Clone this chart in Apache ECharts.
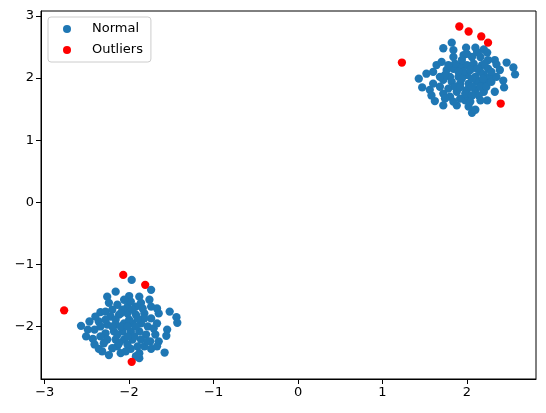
<!DOCTYPE html>
<html>
<head>
<meta charset="utf-8">
<script src="https://cdn.jsdelivr.net/npm/echarts@6/dist/echarts.min.js"></script>
<style>
  html, body { margin: 0; padding: 0; background: #fff; }
  #chart { width: 546px; height: 413px; }
</style>
</head>
<body>
<div id="chart"></div>
<script>
// cluster around (2, 2)
const normalUpper = [
  [1.82, 2.57], [1.72, 2.48], [1.99, 2.49], [2.10, 2.49], [2.20, 2.46], [2.24, 2.41],
  [2.33, 2.29], [2.35, 2.22], [2.47, 2.25], [2.55, 2.17], [2.57, 2.06], [2.43, 1.96],
  [2.44, 1.85], [2.33, 1.78], [2.24, 1.64], [2.06, 1.44], [2.10, 1.49], [2.02, 1.54],
  [1.98, 1.64], [2.02, 1.69], [1.88, 1.56], [1.72, 1.56], [1.62, 1.63], [1.47, 1.85],
  [1.56, 1.81], [1.43, 1.99], [1.52, 2.07], [1.60, 2.10], [1.64, 2.21], [1.70, 2.26],
  [1.84, 2.34], [1.96, 2.37], [2.06, 2.34], [2.16, 2.34], [1.76, 2.13], [1.84, 2.15],
  [1.92, 2.18], [2.00, 2.21], [2.08, 2.23], [2.18, 2.21], [2.25, 2.15], [1.80, 2.02],
  [1.90, 2.02], [2.00, 2.05], [2.10, 2.02], [2.20, 2.05], [2.27, 2.02], [1.72, 1.97],
  [1.82, 1.94], [1.92, 1.91], [2.02, 1.91], [2.12, 1.94], [2.21, 1.94], [1.68, 1.86],
  [1.78, 1.83], [1.88, 1.78], [2.00, 1.81], [2.10, 1.81], [2.20, 1.78], [1.80, 1.70],
  [1.92, 1.67], [2.14, 1.72], [1.72, 1.75], [2.16, 2.10], [1.96, 2.10], [2.04, 2.13],
  [1.86, 2.23], [1.74, 2.05], [1.94, 1.99], [2.06, 1.99], [2.16, 1.86], [1.86, 1.86],
  [1.98, 1.75], [2.06, 1.72], [2.23, 1.86], [1.94, 2.29], [2.12, 2.15], [1.90, 2.10],
  [1.68, 2.02], [1.78, 2.21], [2.25, 2.29], [2.04, 1.62], [1.84, 1.62], [2.29, 1.94],
  [1.60, 1.91], [2.16, 1.64], [2.35, 2.02], [2.00, 2.39], [2.12, 2.42], [2.29, 2.10],
  [1.58, 1.72], [2.21, 2.23], [2.39, 2.13], [1.84, 2.45], [2.06, 1.86], [1.92, 1.85],
  [1.74, 1.67], [2.19, 1.99]
];

// cluster around (-2, -2)
const normalLower = [
  [-1.97, -1.25], [-2.16, -1.44], [-2.26, -1.52], [-2.00, -1.51], [-1.88, -1.52], [-1.74, -1.41],
  [-1.76, -1.57], [-1.67, -1.71], [-1.65, -1.79], [-1.52, -1.76], [-1.44, -1.85], [-1.43, -1.94],
  [-1.55, -2.05], [-1.56, -2.15], [-1.65, -2.24], [-1.75, -2.24], [-1.74, -2.36], [-1.58, -2.42],
  [-1.88, -2.51], [-1.92, -2.48], [-1.98, -2.36], [-2.10, -2.43], [-2.24, -2.46], [-2.32, -2.40],
  [-2.36, -2.36], [-2.51, -2.16], [-2.43, -2.20], [-2.57, -1.99], [-2.47, -1.92], [-2.36, -1.92],
  [-2.34, -1.77], [-2.28, -1.76], [-2.14, -1.65], [-2.02, -1.68], [-1.92, -1.68], [-2.22, -1.84],
  [-2.12, -1.81], [-2.02, -1.79], [-1.92, -1.81], [-1.82, -1.79], [-1.74, -1.87], [-2.26, -1.97],
  [-2.16, -1.97], [-2.06, -1.95], [-1.96, -1.95], [-1.86, -1.95], [-1.78, -2.00], [-2.28, -2.11],
  [-2.18, -2.08], [-2.08, -2.08], [-1.98, -2.08], [-1.88, -2.08], [-1.80, -2.13], [-2.26, -2.21],
  [-2.16, -2.21], [-2.06, -2.21], [-1.96, -2.21], [-1.86, -2.21], [-2.14, -2.32], [-2.02, -2.29],
  [-1.90, -2.32], [-2.20, -1.73], [-2.08, -1.73], [-1.98, -1.60], [-1.86, -1.62], [-2.41, -2.05],
  [-2.34, -2.16], [-1.71, -2.03], [-2.20, -2.35], [-2.00, -1.89], [-2.10, -2.00], [-1.92, -2.00],
  [-1.67, -1.95], [-1.74, -1.68], [-1.84, -1.71], [-2.30, -2.27], [-2.41, -2.29], [-2.06, -1.57],
  [-1.82, -2.32], [-1.69, -2.13], [-2.14, -2.13], [-2.24, -1.62], [-1.94, -2.16], [-2.04, -2.40],
  [-2.16, -1.89], [-2.40, -1.84], [-1.82, -1.87], [-2.02, -2.16], [-1.88, -2.43], [-2.10, -1.79],
  [-1.96, -1.73], [-2.28, -1.89], [-1.78, -2.24], [-2.20, -2.00], [-2.02, -2.00], [-2.12, -2.27],
  [-2.34, -2.00], [-1.90, -1.87], [-1.67, -2.32], [-2.49, -2.05]
];

const outliers = [
  [1.91, 2.83], [2.02, 2.75], [2.17, 2.67], [2.25, 2.57], [1.23, 2.25], [2.40, 1.59],
  [-2.77, -1.74], [-2.07, -1.17], [-1.81, -1.33], [-1.97, -2.57]
];

const xTicks = [-3, -2, -1, 0, 1, 2];
const yTicks = [-2, -1, 0, 1, 2, 3];

const minus = v => String(v).replace('-', '\u2212');

const chart = echarts.init(document.getElementById('chart'), null, { renderer: 'canvas' });

const axisCommon = {
  type: 'value',
  splitLine: { show: false },
  axisLine: { show: true, onZero: false, lineStyle: { color: '#000', width: 1 } },
  axisLabel: { color: '#000', fontSize: 13, fontFamily: 'DejaVu Sans', formatter: minus }
};

chart.setOption({
  animation: false,
  textStyle: { fontFamily: 'DejaVu Sans' },
  grid: {
    left: 41, right: 10, top: 11, bottom: 34,
    show: true, borderColor: '#000', borderWidth: 1, backgroundColor: 'transparent'
  },
  legend: {
    orient: 'vertical',
    left: 48, top: 17,
    padding: [5, 8, 5, 15],
    itemGap: 7,
    itemWidth: 18, itemHeight: 8,
    backgroundColor: 'rgba(255,255,255,0.8)',
    borderColor: '#cccccc', borderWidth: 1, borderRadius: 3,
    textStyle: { color: '#000', fontSize: 13, lineHeight: 14, padding: [0, 0, 0, 11] },
    data: [
      { name: 'Normal', icon: 'circle' },
      { name: 'Outliers', icon: 'circle' }
    ]
  },
  xAxis: Object.assign({}, axisCommon, {
    min: -3.044, max: 2.818,
    axisTick: { customValues: xTicks, length: 5, lineStyle: { color: '#000' } },
    axisLabel: Object.assign({}, axisCommon.axisLabel, { customValues: xTicks, margin: 7 })
  }),
  yAxis: Object.assign({}, axisCommon, {
    min: -2.846, max: 3.08,
    axisTick: { customValues: yTicks, length: 5, lineStyle: { color: '#000' } },
    axisLabel: Object.assign({}, axisCommon.axisLabel, { customValues: yTicks, margin: 7 })
  }),
  series: [
    {
      name: 'Normal',
      type: 'scatter',
      symbolSize: 8.3,
      itemStyle: { color: '#1f77b4', opacity: 1 },
      data: normalUpper.concat(normalLower)
    },
    {
      name: 'Outliers',
      type: 'scatter',
      symbolSize: 8.3,
      itemStyle: { color: '#ff0000', opacity: 1 },
      data: outliers
    }
  ]
});
</script>
</body>
</html>
